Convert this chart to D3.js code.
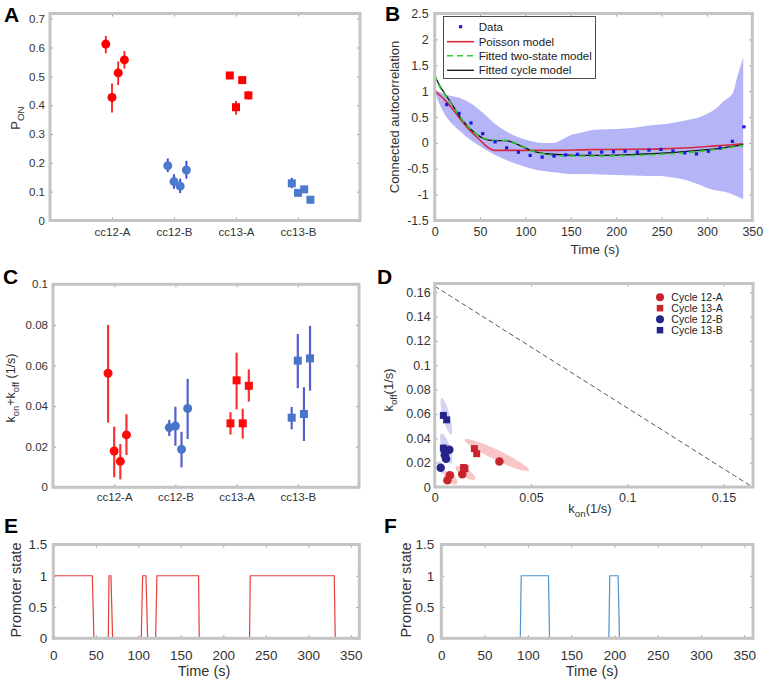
<!DOCTYPE html>
<html><head><meta charset="utf-8">
<script src="https://cdn.jsdelivr.net/npm/d3@7"></script>
<style>
body{margin:0;background:#fff}
svg{display:block;font-family:"Liberation Sans",Arial,sans-serif}
</style></head><body>
<svg id="c" width="766" height="682"></svg>
<script>
// ---------- DATA ----------
const categories = ["cc12-A","cc12-B","cc13-A","cc13-B"];
const jitter = [-0.1, 0.0, 0.1, 0.2];
// Panel A: P_ON per category (4 replicate points each)
const ponMean = [[0.612,0.427,0.512,0.557],[0.190,0.135,0.119,0.175],[0.503,0.393,0.487,0.434],[0.129,0.096,0.108,0.072]];
const ponLow  = [[0.580,0.375,0.470,0.527],[0.168,0.110,0.095,0.145],[0.492,0.367,0.476,0.420],[0.112,0.088,0.100,0.060]];
const ponHigh = [[0.640,0.475,0.552,0.588],[0.215,0.160,0.145,0.207],[0.514,0.415,0.498,0.448],[0.148,0.105,0.117,0.082]];
const ponTicks = [0,0.1,0.2,0.3,0.4,0.5,0.6,0.7];
// Panel C: k_on + k_off
const kMean = [[0.0562,0.0179,0.0128,0.0258],[0.0294,0.0302,0.0187,0.0388],[0.0315,0.0527,0.0315,0.0500],[0.0343,0.0624,0.0361,0.0635]];
const kLow  = [[0.0319,0.0049,0.0039,0.0159],[0.0253,0.0205,0.0098,0.0238],[0.0260,0.0384,0.0240,0.0422],[0.0286,0.0488,0.0228,0.0476]];
const kHigh = [[0.0800,0.0299,0.0213,0.0360],[0.0332,0.0397,0.0273,0.0534],[0.0370,0.0663,0.0387,0.0581],[0.0396,0.0755,0.0493,0.0795]];
const kTicks = [0,0.02,0.04,0.06,0.08,0.1];
// Panel B: autocorrelation
const bTime = [13.2,26.8,40,52.9,66.6,79.3,92.2,105.2,118.4,131.5,144.3,157.3,170.9,184,197,209.8,223.3,236.1,249.3,262.5,275.6,288.5,301.5,314.5,328,340.8];
const bData = [0.739,0.57,0.385,0.178,0.02,-0.097,-0.18,-0.242,-0.274,-0.255,-0.232,-0.22,-0.196,-0.177,-0.17,-0.162,-0.177,-0.139,-0.126,-0.157,-0.193,-0.212,-0.162,-0.097,0.029,0.31];
const bandT  = [0,6,13,27,40,53,67,80,92,105,118,131,142,150,160,171,182,200,220,234,245,263,281,289,300,311,318,329,333,340];
const bandLo = [1.0,0.72,0.5,0.24,0.05,-0.1,-0.24,-0.34,-0.42,-0.49,-0.54,-0.57,-0.59,-0.6,-0.6,-0.6,-0.61,-0.62,-0.63,-0.64,-0.64,-0.67,-0.74,-0.79,-0.87,-0.92,-0.94,-1.0,-1.03,-1.09];
const bandHi = [1.02,0.98,0.93,0.87,0.76,0.58,0.36,0.21,0.11,0.04,0.0,0.0,0.08,0.15,0.19,0.24,0.26,0.27,0.29,0.33,0.35,0.39,0.45,0.48,0.56,0.68,0.8,0.98,1.25,1.65];
const poissonT = [0,10,20,30,40,50,58,64,70,130,171,210,250,280,300,320,340];
const poissonV = [1.0,0.85,0.65,0.42,0.22,0.05,-0.08,-0.14,-0.145,-0.145,-0.13,-0.125,-0.115,-0.095,-0.07,-0.045,-0.016];
const modelT  = [0,5,10,15,20,30,40,50,58,66,78,90,100,110,123,140,171,200,230,250,275,300,320,340];
const cycleV  = [1.3,1.12,0.98,0.85,0.72,0.45,0.26,0.12,0.06,0.045,0.045,-0.02,-0.1,-0.17,-0.21,-0.23,-0.24,-0.235,-0.215,-0.2,-0.17,-0.13,-0.09,-0.035];
const twoStateV = [1.32,1.1,0.97,0.84,0.71,0.45,0.26,0.12,0.07,0.05,0.05,-0.01,-0.09,-0.17,-0.22,-0.25,-0.255,-0.25,-0.235,-0.22,-0.19,-0.15,-0.1,-0.05];
const bXTicks = [0,50,100,150,200,250,300,350];
const bYTicks = [-1.5,-1,-0.5,0,0.5,1,1.5,2,2.5];
const bLegend = ["Data","Poisson model","Fitted two-state model","Fitted cycle model"];
// Panel D: k_on vs k_off
const dSeries = ["Cycle 12-A","Cycle 13-A","Cycle 12-B","Cycle 13-B"];
const dKon  = [[0.0336,0.0143,0.0079,0.0066],[0.0206,0.0218,0.0157,0.0150],[0.0031,0.0059,0.0053,0.0076],[0.0045,0.0062,0.0045,0.0050]];
const dKoff = [[0.0210,0.0104,0.0096,0.0055],[0.0315,0.0274,0.0151,0.0160],[0.0159,0.0233,0.0260,0.0307],[0.0588,0.0552,0.0320,0.0290]];
// confidence regions: major-axis end points (k_on, k_off)
const dRegionSeries = [0,0,0,3,2,2];
const dRegionA = [[0.0155,0.039],[0.011,0.0165],[0.005,0.0125],[0.0036,0.073],[0.0035,0.044],[0.0020,0.021]];
const dRegionB = [[0.049,0.0135],[0.021,0.0065],[0.0115,0.0025],[0.0085,0.043],[0.0085,0.019],[0.0045,0.011]];
const dLimit = 0.165;
const dXTicks = [0,0.05,0.1,0.15];
const dYTicks = [0,0.02,0.04,0.06,0.08,0.1,0.12,0.14,0.16];
// Panels E, F: promoter state traces
const eTime  = [0,45.9,47.8,64.7,65.5,67.8,69.8,103.5,105.1,109,111,120.4,121.9,170.9,171.7,230.9,231.7,330.5,331.7,360];
const eState = [1,1,0,0,1,1,0,0,1,1,0,0,1,1,0,0,1,1,0,0];
const fTime  = [0,91.2,92.3,123.8,125,193.5,194.6,204.2,205.8,360];
const fState = [0,0,1,1,0,0,1,1,0,0];
const efXTicks = [0,50,100,150,200,250,300,350];
const efYTicks = [0,0.5,1,1.5];

// ---------- DRAWING ----------
const svg = d3.select("#c");
const fmt = d => String(+d.toFixed(3));
const FRAME = "#c4c4c4";

function drawAxes(x, y, o) {
  const g = svg.append("g");
  const [x0,x1] = x.range(), [y0,y1] = y.range();
  const style = (sel, fs) => {
    sel.select(".domain").remove();
    sel.selectAll("line").attr("stroke","#9a9a9a");
    sel.selectAll("text").attr("font-size",fs).attr("fill","#333").attr("font-family","Liberation Sans, Arial, sans-serif");
  };
  const bare = sel => { sel.select(".domain").remove(); sel.selectAll("text").remove(); sel.selectAll("line").attr("stroke","#9a9a9a"); };
  g.append("g").attr("transform",`translate(${x0},0)`)
    .call(d3.axisLeft(y).tickValues(o.yt).tickFormat(o.yf||fmt).tickSize(-3).tickPadding(o.yp))
    .call(s=>style(s,o.yfs));
  g.append("g").attr("transform",`translate(${x1},0)`)
    .call(d3.axisRight(y).tickValues(o.yt).tickSize(-3)).call(bare);
  g.append("g").attr("transform",`translate(0,${y0})`)
    .call(d3.axisBottom(x).tickValues(o.xt).tickFormat(o.xf||fmt).tickSize(-3).tickPadding(o.xp))
    .call(s=>style(s,o.xfs));
  g.append("g").attr("transform",`translate(0,${y1})`)
    .call(d3.axisTop(x).tickValues(o.xt).tickSize(-3)).call(bare);
}
function drawFrame(x, y) {
  const [x0,x1] = x.range(), [y0,y1] = y.range();
  svg.append("rect").attr("x",x0).attr("y",y1).attr("width",x1-x0).attr("height",y0-y1)
    .attr("fill","none").attr("stroke",FRAME).attr("stroke-width",3);
}
function clipFor(id, x, y) {
  const [x0,x1] = x.range(), [y0,y1] = y.range();
  svg.append("clipPath").attr("id",id).append("rect").attr("x",x0).attr("y",y1).attr("width",x1-x0).attr("height",y0-y1);
  return svg.append("g").attr("clip-path",`url(#${id})`);
}
function letter(t, x, y) {
  svg.append("text").attr("x",x).attr("y",y).attr("font-size",21).attr("font-weight","bold")
    .attr("font-family","Liberation Sans, Arial, sans-serif").attr("fill","#000").text(t);
}
function rotLabel(x, y, parts, fs) {
  const t = svg.append("text").attr("transform",`translate(${x},${y}) rotate(-90)`)
    .attr("text-anchor","middle").attr("font-size",fs).attr("fill","#333");
  addParts(t, parts, fs);
  return t;
}
function addParts(t, parts, fs) {
  let back = 0;
  parts.forEach(p => {
    if (typeof p === "string") {
      const s = t.append("tspan").text(p);
      if (back) { s.attr("dy", -back); back = 0; }
    } else {
      t.append("tspan").attr("font-size",fs*0.75).attr("dy",fs*0.3).text(p.sub);
      back = fs*0.3;
    }
  });
}
function marker(g, shape, cx, cy, size, color) {
  if (shape === "circle") g.append("circle").attr("cx",cx).attr("cy",cy).attr("r",size/2).attr("fill",color);
  else g.append("rect").attr("x",cx-size/2).attr("y",cy-size/2).attr("width",size).attr("height",size).attr("fill",color);
}

const catShape = ["circle","circle","square","square"];

// ----- Panel A -----
{
  const x = d3.scaleLinear().domain([0,5]).range([50,360]);
  const y = d3.scaleLinear().domain([0,0.718]).range([220.5,13.5]);
  drawAxes(x,y,{yt:ponTicks,yp:5,yfs:11.5,xt:[1,2,3,4],xf:(d,i)=>categories[i],xp:7,xfs:11.5});
  const g = svg.append("g");
  const mk = ["#ff0000","#4b7bcc","#ff0000","#4b7bcc"];
  const eb = ["#ff1a1a","#2a3ed0","#ff1a1a","#2a3ed0"];
  categories.forEach((c,ci) => ponMean[ci].forEach((v,j) => {
    const cx = x(ci+1+jitter[j]);
    g.append("line").attr("x1",cx).attr("x2",cx).attr("y1",y(ponLow[ci][j])).attr("y2",y(ponHigh[ci][j]))
      .attr("stroke",eb[ci]).attr("stroke-width",1.8);
    marker(g, catShape[ci], cx, y(v), ci<2?9:8, mk[ci]);
  }));
  drawFrame(x,y);
  rotLabel(20,118,["P",{sub:"ON"}],13);
  letter("A",4,22);
}

// ----- Panel B -----
{
  const x = d3.scaleLinear().domain([0,350]).range([434.7,752.3]);
  const y = d3.scaleLinear().domain([-1.5,2.5]).range([220.5,13.5]);
  drawAxes(x,y,{yt:bYTicks,yp:6,yfs:12.5,xt:bXTicks,xp:7,xfs:12.5});
  const g = clipFor("clipB",x,y);
  g.append("path").datum(bandT.map((t,i)=>[t,bandLo[i],bandHi[i]]))
    .attr("d", d3.area().x(d=>x(d[0])).y0(d=>y(d[1])).y1(d=>y(d[2])).curve(d3.curveMonotoneX))
    .attr("fill","#b4b4f6");
  const line = d3.line().x(d=>x(d[0])).y(d=>y(d[1])).curve(d3.curveMonotoneX);
  g.append("path").datum(poissonT.map((t,i)=>[t,poissonV[i]])).attr("d",line)
    .attr("fill","none").attr("stroke","#d8283f").attr("stroke-width",1.6);
  g.append("path").datum(modelT.map((t,i)=>[t,cycleV[i]])).attr("d",line)
    .attr("fill","none").attr("stroke","#111").attr("stroke-width",1.3);
  g.append("path").datum(modelT.map((t,i)=>[t,twoStateV[i]])).attr("d",line)
    .attr("fill","none").attr("stroke","#2ecc2e").attr("stroke-width",1.6).attr("stroke-dasharray","6,4");
  bTime.forEach((t,i)=>g.append("rect").attr("x",x(t)-1.6).attr("y",y(bData[i])-1.6)
    .attr("width",3.2).attr("height",3.2).attr("fill","#1818e0"));
  drawFrame(x,y);
  // legend
  const L = svg.append("g");
  L.append("rect").attr("x",443.5).attr("y",16.5).attr("width",152).attr("height",62)
    .attr("fill","#fff").attr("stroke","#222").attr("stroke-width",0.8);
  const rows = [26.7,41.7,55.7,70.3];
  L.append("rect").attr("x",459).attr("y",rows[0]-1.6).attr("width",3.2).attr("height",3.2).attr("fill","#1818e0");
  L.append("line").attr("x1",447).attr("x2",474).attr("y1",rows[1]).attr("y2",rows[1]).attr("stroke","#d8283f").attr("stroke-width",1.6);
  L.append("line").attr("x1",447).attr("x2",474).attr("y1",rows[2]).attr("y2",rows[2]).attr("stroke","#2ecc2e").attr("stroke-width",1.6).attr("stroke-dasharray","6,4");
  L.append("line").attr("x1",447).attr("x2",474).attr("y1",rows[3]).attr("y2",rows[3]).attr("stroke","#111").attr("stroke-width",1.3);
  bLegend.forEach((s,i)=>L.append("text").attr("x",478.7).attr("y",rows[i]).attr("dy","0.35em")
    .attr("font-size",11.5).attr("fill","#222").text(s));
  rotLabel(399,117,["Connected autocorrelation"],13);
  svg.append("text").attr("x",595).attr("y",254).attr("text-anchor","middle").attr("font-size",13.5).attr("fill","#333").text("Time (s)");
  letter("B",385,21);
}

// ----- Panel C -----
{
  const x = d3.scaleLinear().domain([0,5]).range([53,359]);
  const y = d3.scaleLinear().domain([0,0.1]).range([487.3,284.3]);
  drawAxes(x,y,{yt:kTicks,yp:5,yfs:11.5,xt:[1,2,3,4],xf:(d,i)=>categories[i],xp:6,xfs:11.5});
  const g = svg.append("g");
  const mk = ["#ff0a0a","#4a74c8","#ff0a0a","#4a74c8"];
  const eb = ["#ff3030","#5560cc","#ff3030","#5560cc"];
  categories.forEach((c,ci) => kMean[ci].forEach((v,j) => {
    const cx = x(ci+1+jitter[j]);
    g.append("line").attr("x1",cx).attr("x2",cx).attr("y1",y(kLow[ci][j])).attr("y2",y(kHigh[ci][j]))
      .attr("stroke",eb[ci]).attr("stroke-width",2.2);
    marker(g, catShape[ci], cx, y(v), ci<2?9:8, mk[ci]);
  }));
  drawFrame(x,y);
  rotLabel(15,388,["k",{sub:"on"},"+k",{sub:"off"}," (1/s)"],12.5);
  letter("C",3,284);
}

// ----- Panel D -----
{
  const x = d3.scaleLinear().domain([0,0.1653]).range([434.7,753]);
  const y = d3.scaleLinear().domain([0,0.1672]).range([487,283.5]);
  drawAxes(x,y,{yt:dYTicks,yp:4,yfs:12.5,xt:dXTicks,xp:6,xfs:12.5});
  const g = clipFor("clipD",x,y);
  const fillC = ["#f5b3b3","#f5b3b3","#c3c3f0","#c3c3f0"];
  const hw = [5,4,4,3.5,4,3];
  dRegionA.forEach((p1,i) => {
    const a=[x(p1[0]),y(p1[1])], b=[x(dRegionB[i][0]),y(dRegionB[i][1])];
    const cx=(a[0]+b[0])/2, cy=(a[1]+b[1])/2, dx=(b[0]-a[0])/2, dy=(b[1]-a[1])/2, L=Math.hypot(dx,dy);
    const nx=-dy/L*hw[i], ny=dx/L*hw[i];
    const pts = d3.range(0,64).map(k=>{const th=k/64*2*Math.PI; return [cx+dx*Math.cos(th)+nx*Math.sin(th), cy+dy*Math.cos(th)+ny*Math.sin(th)];});
    g.append("path").attr("d","M"+pts.join("L")+"Z").attr("fill",fillC[dRegionSeries[i]]).attr("opacity",0.75);
  });
  g.append("line").attr("x1",x(0)).attr("y1",y(dLimit)).attr("x2",x(dLimit)).attr("y2",y(0))
    .attr("stroke","#555").attr("stroke-width",1).attr("stroke-dasharray","5,3");
  const col = ["#c8242c","#c8242c","#24248a","#24248a"];
  const shp = ["circle","square","circle","square"];
  dSeries.forEach((s,si) => dKon[si].forEach((k,j) => marker(g, shp[si], x(k), y(dKoff[si][j]), si%2?7:8.5, col[si])));
  drawFrame(x,y);
  const ly = [297.3,308.2,319.2,330.2];
  dSeries.forEach((s,si)=>{
    marker(svg, shp[si], 660, ly[si], si%2?6.5:8, col[si]);
    svg.append("text").attr("x",671.3).attr("y",ly[si]).attr("dy","0.35em").attr("font-size",10.5).attr("fill","#222").text(s);
  });
  rotLabel(393,390,["k",{sub:"off"},"(1/s)"],13);
  const t = svg.append("text").attr("x",590).attr("y",513).attr("text-anchor","middle").attr("font-size",13).attr("fill","#333");
  addParts(t,["k",{sub:"on"},"(1/s)"],13);
  letter("D",377,284);
}

// ----- Panels E, F -----
function statePanel(xr, time, state, color, lblX, timeX, ltr, ltrX, yp) {
  const x = d3.scaleLinear().domain([0,360]).range(xr);
  const y = d3.scaleLinear().domain([0,1.5]).range([638.3,544.5]);
  drawAxes(x,y,{yt:efYTicks,yp:yp,yfs:13.5,xt:efXTicks,xp:12,xfs:13.5});
  svg.append("path").datum(time.map((t,i)=>[t,state[i]]))
    .attr("d",d3.line().x(d=>x(d[0])).y(d=>y(d[1])))
    .attr("fill","none").attr("stroke",color).attr("stroke-width",1.2);
  drawFrame(x,y);
  rotLabel(lblX,590,["Promoter state"],14.5);
  svg.append("text").attr("x",timeX).attr("y",676).attr("text-anchor","middle").attr("font-size",14.5).attr("fill","#333").text("Time (s)");
  letter(ltr,ltrX,533);
}
statePanel([53.3,359.3], eTime, eState, "#e4403c", 21, 204, "E", 4, 6);
statePanel([441.3,753], fTime, fState, "#4f94cc", 411, 592, "F", 384, 7);
</script>
</body></html>
